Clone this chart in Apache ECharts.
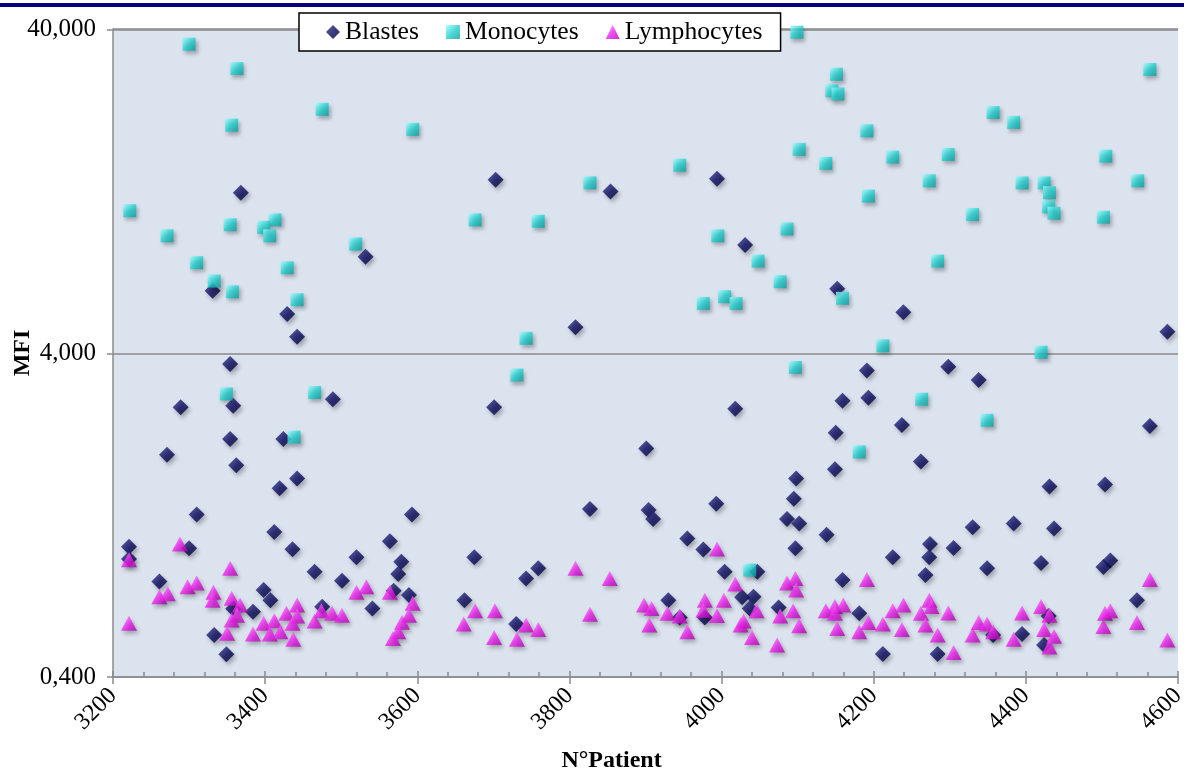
<!DOCTYPE html>
<html>
<head>
<meta charset="utf-8">
<script src="https://cdn.jsdelivr.net/npm/echarts@6/dist/echarts.min.js"></script>
<style>
  html, body { margin: 0; padding: 0; background: #ffffff; }
  #chart { width: 1184px; height: 772px; }
</style>
</head>
<body>
<div id="chart"></div>
<script>
// [patient number, MFI] per cell population
const blastes = [
  [3368,12.5],[3532,7.93],[3331,6.23],[3429,5.28],[3442,4.49],
  [3703,13.7],[3854,12.6],[3994,13.8],[4031,8.62],[3808,4.80],
  [4152,6.32],[4239,5.34],[4586,4.65],
  [3354,3.70],[3289,2.72],[3358,2.75],[3489,2.88],[3354,2.17],[3424,2.17],[3271,1.94],
  [3362,1.80],[3442,1.64],[3419,1.53],[3310,1.27],[3593,1.27],[3412,1.12],[3221,1.01],
  [3300,0.998],[3436,0.991],[3564,1.05],[3520,0.936],[3579,0.908],[3575,0.832],[3465,0.845],
  [3501,0.793],[3261,0.788],[3221,0.925],[3398,0.742],[3407,0.69],[3384,0.636],[3569,0.739],
  [3589,0.716],[3475,0.659],[3541,0.651],[3662,0.69],[3333,0.539],[3349,0.47],[3358,0.65],
  [3701,2.72],[4018,2.69],[3901,2.03],[4098,1.64],[4095,1.42],[3827,1.32],[3904,1.31],
  [3910,1.23],[3993,1.37],[4086,1.23],[4102,1.19],[4138,1.10],[3955,1.07],[3976,0.99],
  [4097,0.998],[3675,0.936],[3759,0.866],[3743,0.806],[4004,0.845],[4047,0.845],[3930,0.69],
  [4027,0.705],[4042,0.708],[4037,0.651],[4075,0.656],[3945,0.61],[3978,0.61],[3730,0.583],
  [4191,3.53],[4298,3.63],[4338,3.30],[4159,2.85],[4193,2.91],[4237,2.40],[4150,2.27],
  [4563,2.38],[4262,1.85],[4149,1.75],[4431,1.55],[4504,1.57],[4330,1.16],[4384,1.19],
  [4437,1.15],[4274,1.03],[4305,1.0],[4273,0.936],[4225,0.936],[4420,0.90],[4349,0.866],
  [4511,0.915],[4502,0.874],[4268,0.826],[4159,0.797],[4181,0.629],[4546,0.69],[4395,0.543],
  [4357,0.539],[4424,0.502],[4212,0.471],[4284,0.471],[4430,0.617]
];

const monocytes = [
  [3300,35.9],[3363,30.2],[3475,22.6],[3594,19.6],[3356,20.2],[3222,11.0],[3354,9.95],
  [3413,10.3],[3398,9.77],[3406,9.2],[3271,9.2],[3519,8.68],[3310,7.6],[3333,6.67],
  [3357,6.18],[3429,7.33],[3442,5.84],
  [4099,39.1],[4102,17.0],[4137,15.4],[3945,15.2],[3827,13.4],[3676,10.3],[3759,10.2],
  [3995,9.2],[4086,9.66],[4048,7.69],[4077,6.64],[3976,5.69],[4004,5.97],[4019,5.69],[3743,4.44],
  [4151,29.0],[4145,25.8],[4153,25.2],[4563,30.0],[4357,22.1],[4384,20.6],[4191,19.4],
  [4225,16.1],[4298,16.4],[4505,16.2],[4273,13.6],[4547,13.6],[4395,13.4],[4424,13.4],
  [4431,12.5],[4430,11.3],[4437,10.8],[4193,12.2],[4330,10.7],[4502,10.5],[4284,7.69],
  [4159,5.90],[4212,4.21],[4420,4.02],
  [3349,2.99],[3465,3.02],[3438,2.20],
  [3731,3.42],[4097,3.61],[4037,0.855],
  [4263,2.88],[4349,2.48],[4181,1.98]
];

const lymphocytes = [
  [3221,0.92],[3221,0.586],[3288,1.03],[3261,0.708],[3272,0.723],[3298,0.76],[3310,0.78],
  [3332,0.73],[3331,0.69],[3354,0.866],[3356,0.70],[3367,0.667],[3363,0.62],[3356,0.60],
  [3350,0.546],[3384,0.543],[3398,0.586],[3412,0.597],[3406,0.543],[3420,0.552],[3428,0.629],
  [3442,0.667],[3442,0.617],[3436,0.586],[3437,0.523],[3465,0.595],[3474,0.64],[3488,0.629],
  [3501,0.62],[3520,0.73],[3533,0.76],[3564,0.73],[3594,0.675],[3589,0.62],[3580,0.59],
  [3575,0.552],[3568,0.526],[3661,0.583],
  [3676,0.64],[3702,0.64],[3701,0.53],[3731,0.523],[3743,0.579],[3759,0.561],[3808,0.866],
  [3853,0.806],[3827,0.625],[3898,0.667],[3908,0.651],[3905,0.579],[3929,0.629],[3945,0.617],
  [3955,0.552],[3978,0.69],[3976,0.643],[3994,0.993],[3994,0.619],[4003,0.69],[4018,0.775],
  [4029,0.595],[4025,0.579],[4040,0.53],[4046,0.64],[4073,0.502],[4077,0.617],[4086,0.78],
  [4097,0.806],[4098,0.742],[4094,0.64],[4102,0.576],[4137,0.64],
  [4191,0.80],[4563,0.80],[4149,0.66],[4160,0.667],[4149,0.629],[4152,0.565],[4181,0.552],
  [4193,0.589],[4212,0.583],[4225,0.64],[4239,0.667],[4237,0.561],[4262,0.629],[4268,0.579],
  [4273,0.69],[4276,0.66],[4284,0.539],[4298,0.63],[4305,0.476],[4330,0.539],[4338,0.589],
  [4349,0.583],[4357,0.552],[4384,0.523],[4395,0.63],[4420,0.66],[4431,0.62],[4424,0.561],
  [4437,0.534],[4431,0.495],[4502,0.573],[4504,0.629],[4511,0.64],[4546,0.589],[4586,0.52]
];

const seriesNames = ['Blastes', 'Monocytes', 'Lymphocytes'];
const patientRange = [3200, 4600];
const patientStep = 200;
const mfiRange = [0.4, 40];

const FONT = '"Liberation Serif", "Times New Roman", serif';
const AXIS_GREY = '#8a8a8a';

// decimal comma with three decimals: 0,400 / 4,000 / 40,000
function mfiLabel(v) {
  return Number(Number(v).toPrecision(1)).toFixed(3).replace('.', ',');
}

const shadow = {
  shadowBlur: 4,
  shadowOffsetX: 2,
  shadowOffsetY: 3,
  shadowColor: 'rgba(0,0,0,0.35)'
};

const grad = (stops) => new echarts.graphic.LinearGradient(0, 0, 1, 1,
  stops.map((c, i) => ({ offset: i / (stops.length - 1), color: c })));

const chart = echarts.init(document.getElementById('chart'), null, { renderer: 'canvas' });

chart.setOption({
  backgroundColor: '#ffffff',
  animation: false,
  graphic: [{
    type: 'rect',
    left: 0, top: 3,
    shape: { width: 1184, height: 4 },
    style: { fill: '#000080' },
    z: 100
  }],
  grid: {
    left: 113, right: 6, top: 29, bottom: 95,
    outerBoundsMode: 'none',
    containLabel: false,
    show: true,
    backgroundColor: '#dbe3ef',
    borderWidth: 0
  },
  legend: {
    data: seriesNames,
    left: 299, top: 13,
    padding: [6, 18, 6, 27],
    itemGap: 27,
    itemWidth: 14, itemHeight: 14,
    backgroundColor: '#ffffff',
    borderColor: '#000000',
    borderWidth: 1.5,
    textStyle: { fontFamily: FONT, fontSize: 25.6, color: '#000' }
  },
  xAxis: [{
    type: 'value',
    min: patientRange[0], max: patientRange[1], interval: patientStep,
    name: 'N°Patient',
    nameLocation: 'middle',
    nameGap: 72,
    nameMoveOverlap: false,
    nameTextStyle: {
      fontFamily: FONT, fontSize: 24, fontWeight: 'bold', color: '#000',
      padding: [0, 68, 0, 0]
    },
    axisLine: { show: true, lineStyle: { color: AXIS_GREY, width: 1.5 } },
    axisTick: { show: true, length: 7, lineStyle: { color: AXIS_GREY, width: 1.5 } },
    axisLabel: {
      rotate: 45, margin: 15, fontFamily: FONT, fontSize: 24, color: '#000',
      formatter: (v) => String(v)
    },
    splitLine: { show: false }
  }, {
    type: 'value',
    position: 'bottom',
    min: patientRange[0], max: patientRange[1], interval: patientStep,
    axisLine: { show: false },
    axisLabel: { show: false },
    axisTick: { show: true, inside: true, length: 6, lineStyle: { color: AXIS_GREY, width: 1.5 } },
    minorTick: { show: true, splitNumber: 5, length: 5, lineStyle: { color: AXIS_GREY, width: 1.5 } },
    splitLine: { show: false }
  }],
  yAxis: {
    type: 'log',
    logBase: 10,
    min: mfiRange[0], max: mfiRange[1],
    interval: 1,
    name: 'MFI',
    nameLocation: 'middle',
    nameRotate: 90,
    nameGap: 78,
    nameMoveOverlap: false,
    nameTextStyle: { fontFamily: FONT, fontSize: 24, fontWeight: 'bold', color: '#000' },
    axisLine: { show: true, lineStyle: { color: AXIS_GREY, width: 1.5 } },
    axisTick: { show: true, length: 6, lineStyle: { color: AXIS_GREY, width: 1.5 } },
    axisLabel: { margin: 17, fontFamily: FONT, fontSize: 25, color: '#000', formatter: mfiLabel },
    splitLine: { show: true, lineStyle: { color: AXIS_GREY, width: 1.5 } },
    minorTick: { show: false },
    minorSplitLine: { show: false }
  },
  series: [{
    name: seriesNames[0],
    type: 'scatter',
    data: blastes,
    symbol: 'diamond',
    symbolSize: 16,
    itemStyle: Object.assign({ color: grad(['#383890', '#0b0b5e', '#000036']) }, shadow)
  }, {
    name: seriesNames[1],
    type: 'scatter',
    data: monocytes,
    symbol: 'rect',
    symbolSize: 13,
    itemStyle: Object.assign({ color: grad(['#9ffcfc', '#22d0d0', '#0a9c9c']) }, shadow)
  }, {
    name: seriesNames[2],
    type: 'scatter',
    data: lymphocytes,
    symbol: 'triangle',
    symbolSize: [16, 15],
    itemStyle: Object.assign({ color: grad(['#ff9cff', '#ee22ee', '#b000b0']) }, shadow)
  }]
});
</script>
</body>
</html>
